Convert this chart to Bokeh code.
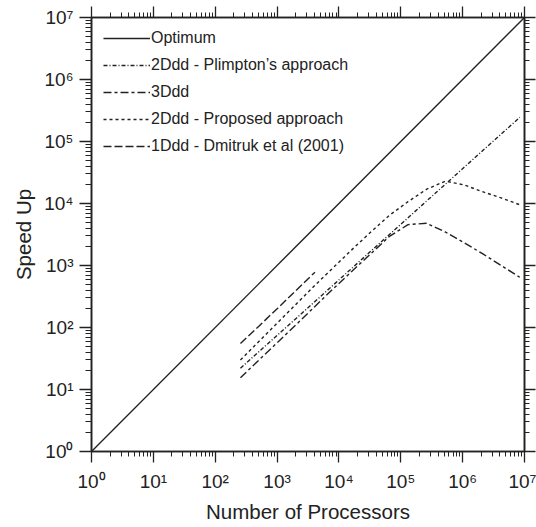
import numpy as np
from bokeh.plotting import figure
from bokeh.models import (LogAxis, FixedTicker, CustomJSTickFormatter, Legend,
                          LegendItem, ColumnDataSource)
from bokeh.embed import file_html
from bokeh.resources import INLINE

# ---------------- data ----------------
processors = [256, 512, 1024, 2048, 4096, 8192, 16384, 32768, 65536, 131072,
              262144, 524288, 1048576, 2097152, 4194304, 8388608]
optimum_x = [1, 1e7]
optimum_y = [1, 1e7]
plimpton_2d = [22, 41, 76, 141, 263, 490, 912, 1700, 3160, 5890, 11000,
               20400, 38000, 70800, 132000, 245000]
ddd_3d = [15.5, 30, 58, 112, 219, 427, 813, 1550, 2950, 4570, 4790, 3470,
          2340, 1550, 1000, 646]
proposed_2d = [30, 60, 120, 240, 479, 933, 1820, 3470, 6460, 10700, 17000,
               22900, 20000, 15500, 12300, 9550]
dmitruk_x = [256, 512, 1024, 2048, 4096]
dmitruk_1d = [55, 106, 205, 400, 780]

series_labels = ["Optimum", "2Ddd - Plimpton\u2019s approach", "3Ddd",
                 "2Ddd - Proposed approach", "1Ddd - Dmitruk et al (2001)"]

tick_values = [1, 10, 100, 1000, 1e4, 1e5, 1e6, 1e7]
tick_labels = ["10\u2070", "10\u00b9", "10\u00b2", "10\u00b3", "10\u2074",
               "10\u2075", "10\u2076", "10\u2077"]
minor_values = [k * 10 ** n for n in range(7) for k in range(2, 10)]

# ---------------- figure ----------------
INK = "#222222"
FONT = "Liberation Sans"

p = figure(width=536, height=527, x_axis_type="log", y_axis_type="log",
           x_range=(1, 1e7), y_range=(1, 1e7), output_backend="svg",
           toolbar_location=None, min_border_left=91, min_border_right=12,
           min_border_top=17, min_border_bottom=76)
p.xgrid.visible = False
p.ygrid.visible = False
p.outline_line_color = INK
p.outline_line_width = 1.5

fmt = CustomJSTickFormatter(args=dict(labels=tick_labels),
                            code="return labels[Math.round(Math.log10(tick))] || '';")
blank = CustomJSTickFormatter(code="return '';")


def style_axis(ax, labels=True):
    ax.ticker = FixedTicker(ticks=tick_values, minor_ticks=minor_values)
    ax.axis_line_color = INK
    ax.axis_line_width = 1.6
    ax.major_tick_line_color = INK
    ax.minor_tick_line_color = INK
    ax.major_tick_line_width = 1.3
    ax.minor_tick_line_width = 1
    ax.major_tick_in = 0
    ax.minor_tick_in = 0
    ax.major_tick_out = 11
    ax.minor_tick_out = 5
    if labels:
        ax.formatter = fmt
        ax.major_label_text_font = FONT
        ax.major_label_text_font_size = "19px"
        ax.major_label_text_color = INK
        ax.axis_label_text_font = FONT
        ax.axis_label_text_font_size = "20.5px"
        ax.axis_label_text_font_style = "normal"
        ax.axis_label_text_color = INK
    else:
        ax.formatter = blank
        ax.major_label_text_font_size = "0px"
        ax.major_label_standoff = 0


xa = p.xaxis[0]
ya = p.yaxis[0]
style_axis(xa)
style_axis(ya)
xa.axis_label = "Number of Processors"
ya.axis_label = "Speed Up"
xa.major_label_standoff = 8
xa.axis_label_standoff = 5
ya.major_label_standoff = 6
ya.axis_label_standoff = 6
ya.major_tick_out = 12
ya.minor_tick_out = 6

top = LogAxis()
right = LogAxis()
style_axis(top, labels=False)
style_axis(right, labels=False)
p.add_layout(top, "above")
p.add_layout(right, "right")

# ---------------- lines ----------------
r_opt = p.line(optimum_x, optimum_y, line_color=INK, line_width=1.4)
r_pl = p.line(processors, plimpton_2d, line_color=INK, line_width=1.4,
              line_dash="4 2 1 2")
r_3d = p.line(processors, ddd_3d, line_color=INK, line_width=1.4,
              line_dash="8 3 3 3")
r_pr = p.line(processors, proposed_2d, line_color=INK, line_width=1.4,
              line_dash="3 3")
r_dm = p.line(dmitruk_x, dmitruk_1d, line_color=INK, line_width=1.4,
              line_dash="8 3")

legend = Legend(items=[LegendItem(label=series_labels[0], renderers=[r_opt]),
                       LegendItem(label=series_labels[1], renderers=[r_pl]),
                       LegendItem(label=series_labels[2], renderers=[r_3d]),
                       LegendItem(label=series_labels[3], renderers=[r_pr]),
                       LegendItem(label=series_labels[4], renderers=[r_dm])],
                location="top_left")
legend.border_line_alpha = 0
legend.background_fill_alpha = 0
legend.margin = 6
legend.padding = 6
legend.glyph_width = 47
legend.glyph_height = 18
legend.label_height = 18
legend.label_standoff = 1
legend.spacing = 9
legend.label_text_font = FONT
legend.label_text_font_size = "16px"
legend.label_text_color = INK
p.add_layout(legend)

open("out.html", "w").write(file_html(p, INLINE))
